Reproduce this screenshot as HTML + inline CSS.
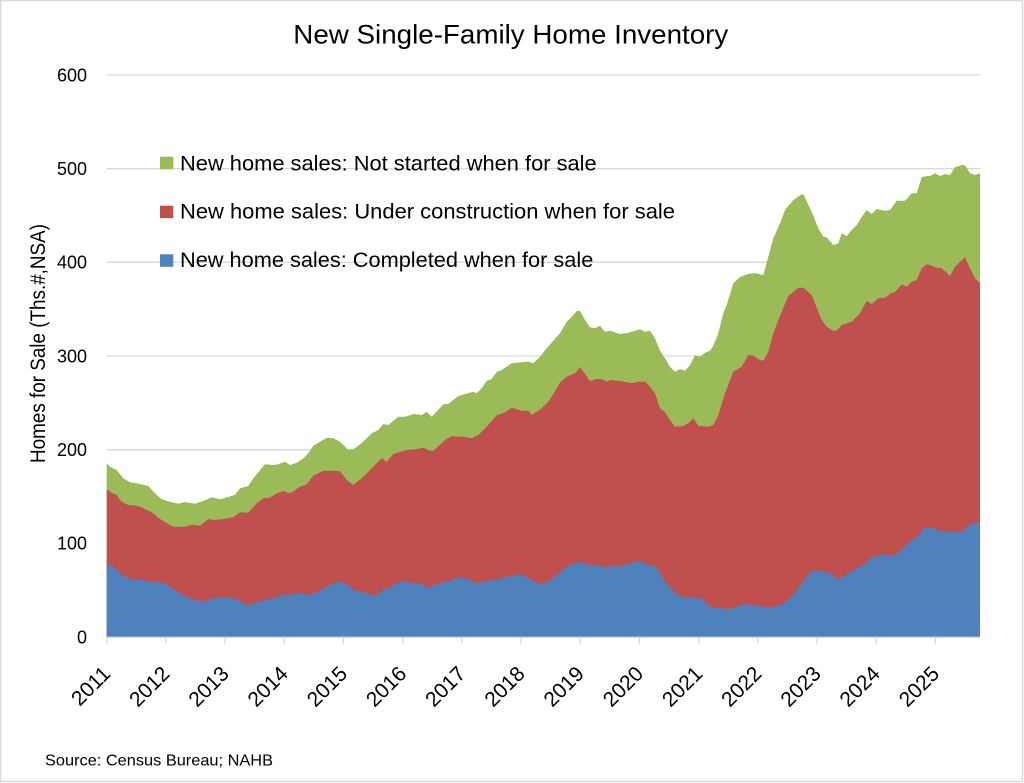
<!DOCTYPE html>
<html>
<head>
<meta charset="utf-8">
<style>
html,body{margin:0;padding:0;background:#fff;}
svg{display:block;}
text{font-family:"Liberation Sans",Arial,sans-serif;fill:#000;}
</style>
</head>
<body>
<svg width="1024" height="783" viewBox="0 0 1024 783" xmlns="http://www.w3.org/2000/svg">
<rect x="0" y="0" width="1024" height="783" fill="#fff"/>
<rect x="0.5" y="0.5" width="1022" height="781" fill="none" stroke="#d9d9d9" stroke-width="1.5"/>

<!-- gridlines -->
<g stroke="#d9d9d9" stroke-width="1.3">
<line x1="106.7" y1="75" x2="980" y2="75"/>
<line x1="106.7" y1="168.7" x2="980" y2="168.7"/>
<line x1="106.7" y1="262.3" x2="980" y2="262.3"/>
<line x1="106.7" y1="356" x2="980" y2="356"/>
<line x1="106.7" y1="449.7" x2="980" y2="449.7"/>
<line x1="106.7" y1="543.3" x2="980" y2="543.3"/>
</g>

<!-- green (not started) -->
<path fill="#9bbb59" d="M106.7,463.3 L110,466.7 116.7,470 123.3,478.3 130,482.3 140,484 148.3,486 155,493.3 161.7,499.3 170,501.7 178.3,503.7 185,502 195,503.7 203.3,501 211.7,497.3 220,499.3 228.3,497 235,494.7 240,488.3 248.3,486 253.3,478.3 265,464.3 273.3,465 278.3,464.3 285,461.7 290,465 296.7,462.7 303.3,458.3 308.3,453.3 313.3,445.7 320,441.7 326.7,437.7 333.3,438.3 340,441.7 348.3,450 353.3,449.3 361.7,443.3 371.7,433.3 378.3,430 383.3,424 388.3,425 398.3,416.7 405,416.7 413.3,414 421.7,415 426.7,411.7 431.7,416.7 443.3,404.3 448.3,404 458.3,396 465,394 470,392.7 473.3,391.7 476.7,393.3 481.7,388.3 486.7,380.7 491.7,379 496.7,371.7 501.7,370 511.7,363.3 525,361.7 528.3,361.7 533.3,363.3 540,356.7 546.7,348.3 556.7,336.7 560,333.3 566.7,321.7 571.7,316.7 576.7,311 580,311 585,320 590,327.3 595,328.3 600,325.7 605,331.7 610,330.7 620,334 628.3,332.7 635,330.7 640,329.3 645,331.7 650,330.7 655,338.3 660,350.7 665,358.3 670,366.7 675,371.7 680,369 685,370.7 690,365 695,355.3 700,356.7 705,352.7 710,350.7 713.3,345.7 718.3,333.3 723.3,313.3 726.7,305 733.3,283.3 740,277 748,274 755,273 760,274.3 763.3,275 768.3,256.7 773.3,238.3 780,223.3 785,210 793.3,200 801.7,194.3 803.3,194.3 811.7,211.7 818.3,228.3 823.3,236.7 826.7,237.3 833.3,245 838.3,243.3 841.7,233.3 846.7,236 851.7,230 856.7,225 861.7,216.7 866.7,210 871.7,214 876.7,209 885,210.7 890,210 896.7,200.7 905,200.7 911.7,193.3 916.7,193.3 921.7,177.3 926.7,176 930,176 935,173.3 940,176 945,174 950,175 955,167.3 961.7,165 965,165.3 970,173.3 975,175 980,173.3 L980,637 L106.7,637 Z"/>

<!-- red (under construction) -->
<path fill="#c0504d" d="M106.7,489.3 L111.7,492.7 116.7,495 121.7,501.7 128.3,505 136.7,505.7 143.3,508.3 151.7,512.3 160,519 173.3,526.7 185,526.7 191.7,524.7 200,525.7 208.3,519 213.3,520 221.7,519.3 233.3,517.3 240,512.3 248.3,512.7 256.7,503.3 263.3,498.3 270,497.7 276.7,493.3 283.3,491 290,493.3 300,486.7 306.7,484.3 313.3,475.7 323.3,470.7 333.3,470.7 340,471.3 346.7,480 353.3,485 363.3,476.7 373.3,466.7 381.7,458 386.7,462 393.3,454 406.7,450 416.7,449 423.3,447.7 428.3,450 433.3,451 445,440 451.7,436.3 463.3,436.7 471.7,438.3 478.3,435 486.7,426.7 496.7,415.3 503.3,413.3 511.7,407.7 521.7,410.7 528.3,410.7 531.7,415 541.7,408.3 548.3,401.7 556.7,388.3 560,382.5 566.7,376.7 575,373.3 580,367.3 585,374 590,381 596.7,379 601.7,379 606.7,381.7 610,380 620,381 626.7,382.3 631.7,383.3 638.3,381.7 645,381.7 650,386.7 655,393.3 660,408.3 665,412.3 670,420 675,426.7 683.3,426 688.3,423.3 693.3,418.3 698.3,425.7 708.3,426.7 713.3,425 718.3,415 725,393.3 733.3,371.7 741.7,366.7 748.3,355 753.3,355.7 760,360 763.3,360.7 768.3,351.7 773.3,333.3 780,315.7 788.3,296 798.3,287.7 803.3,287.7 811.7,295 815,303.3 821.7,320 826.7,326.7 833.3,330.7 836.7,330.7 841.7,325 851.7,321.7 860,313.3 866.7,300.7 871.7,304 878.3,298.3 885,297.7 891.7,292.7 895,292.3 901.7,284.3 906.7,286.7 911.7,281.7 916.7,280 921.7,268.3 926.7,264.3 930,265 936.7,267.7 941.7,268.3 950,275.7 955,266.7 965,257.3 970,268.3 975,278.3 980,283.3 L980,637 L106.7,637 Z"/>

<!-- blue (completed) -->
<path fill="#4f81bd" d="M106.7,563.3 L113.3,566.7 121.7,575 125,576 131.7,580 143.3,580 151.7,582.3 161.7,582.3 170,586.7 176.7,591.7 186.7,596.7 196.7,600.7 206.7,600.7 213.3,598.3 220,597.3 230,597.3 236.7,599.3 246.7,605 253.3,604 260,601 270,599.3 276.7,597.3 285,594 288.3,595.7 293.3,593.3 300,593.3 308.3,595 316.7,592.3 326.7,586.7 333.3,583.3 338.3,581.7 346.7,584 353.3,590 363.3,592.3 375,595.7 383.3,590 391.7,586.7 398.3,582.3 405,581.7 413.3,583.3 421.7,584 428.3,588.3 436.7,583.3 445,582.3 450,581 456.7,577.7 465,578.3 476.7,583.3 486.7,580.7 496.7,580 503.3,577.3 511.7,576 520,574 525,576 531.7,580.7 541.7,584 548.3,581.7 556.7,575 560,573.3 565,567.3 573.3,564.3 580,561 585,564.3 593.3,565.3 600,565.3 605,567.7 610,566 620,566.7 625,564.3 630,564.3 635,561 643.3,562.3 648.3,565.7 653.3,565 658.3,570 665,581.7 675,593.3 683.3,597.3 693.3,597.3 703.3,599.3 708.3,605.7 713.3,607.7 721.7,608.3 728.3,609.3 733.3,606.7 738.3,606.7 743.3,604 750,605 756.7,605 760,606 768.3,607.7 781.7,605 793.3,595 801.7,583.3 811.7,570.7 821.7,570.7 831.7,574.3 836.7,579.3 843.3,576.7 853.3,570 866.7,563.3 871.7,556 876.7,557.3 881.7,553.3 886.7,555.7 896.7,554.3 903.3,547.7 911.7,540 916.7,538 925,526.7 933.3,528.3 941.7,531 950,532.7 955,530.7 960,532.7 965,529.3 970,524 975,524 980,522.3 L980,637 L106.7,637 Z"/>

<!-- axis line and ticks -->
<g stroke="#d9d9d9" stroke-width="1.3">
<line x1="106.7" y1="637.3" x2="980" y2="637.3"/>
<line x1="106.7" y1="637" x2="106.7" y2="644"/>
<line x1="165.9" y1="637" x2="165.9" y2="644"/>
<line x1="225.1" y1="637" x2="225.1" y2="644"/>
<line x1="284.3" y1="637" x2="284.3" y2="644"/>
<line x1="343.5" y1="637" x2="343.5" y2="644"/>
<line x1="402.7" y1="637" x2="402.7" y2="644"/>
<line x1="461.9" y1="637" x2="461.9" y2="644"/>
<line x1="521.1" y1="637" x2="521.1" y2="644"/>
<line x1="580.3" y1="637" x2="580.3" y2="644"/>
<line x1="639.5" y1="637" x2="639.5" y2="644"/>
<line x1="698.7" y1="637" x2="698.7" y2="644"/>
<line x1="757.9" y1="637" x2="757.9" y2="644"/>
<line x1="817.1" y1="637" x2="817.1" y2="644"/>
<line x1="876.3" y1="637" x2="876.3" y2="644"/>
<line x1="935.5" y1="637" x2="935.5" y2="644"/>
</g>

<!-- title -->
<text x="293.3" y="43.3" font-size="27" textLength="435" lengthAdjust="spacingAndGlyphs">New Single-Family Home Inventory</text>

<!-- y tick labels -->
<g font-size="18" text-anchor="end">
<text x="87" y="81.3">600</text>
<text x="87" y="175">500</text>
<text x="87" y="268.6">400</text>
<text x="87" y="362.3">300</text>
<text x="87" y="456">200</text>
<text x="87" y="549.6">100</text>
<text x="87" y="643.3">0</text>
</g>

<!-- y axis title -->
<text transform="translate(45,343.5) rotate(-90)" font-size="21" text-anchor="middle" textLength="239" lengthAdjust="spacingAndGlyphs">Homes for Sale (Ths.#,NSA)</text>

<!-- x labels -->
<g font-size="21" text-anchor="end">
<text transform="translate(111.7,675) rotate(-45)">2011</text>
<text transform="translate(170.9,675) rotate(-45)">2012</text>
<text transform="translate(230.1,675) rotate(-45)">2013</text>
<text transform="translate(289.3,675) rotate(-45)">2014</text>
<text transform="translate(348.5,675) rotate(-45)">2015</text>
<text transform="translate(407.7,675) rotate(-45)">2016</text>
<text transform="translate(466.9,675) rotate(-45)">2017</text>
<text transform="translate(526.1,675) rotate(-45)">2018</text>
<text transform="translate(585.3,675) rotate(-45)">2019</text>
<text transform="translate(644.5,675) rotate(-45)">2020</text>
<text transform="translate(703.7,675) rotate(-45)">2021</text>
<text transform="translate(762.9,675) rotate(-45)">2022</text>
<text transform="translate(822.1,675) rotate(-45)">2023</text>
<text transform="translate(881.3,675) rotate(-45)">2024</text>
<text transform="translate(940.5,675) rotate(-45)">2025</text>
</g>

<!-- legend -->
<rect x="160" y="156.7" width="13.3" height="12.5" fill="#9bbb59"/>
<rect x="160" y="205.7" width="13.3" height="12.5" fill="#c0504d"/>
<rect x="160" y="254.3" width="13.3" height="12.5" fill="#4f81bd"/>
<g font-size="21">
<text x="180" y="170.7" textLength="416.7" lengthAdjust="spacingAndGlyphs">New home sales: Not started when for sale</text>
<text x="180" y="218.5" textLength="495" lengthAdjust="spacingAndGlyphs">New home sales: Under construction when for sale</text>
<text x="180" y="266.9" textLength="413.3" lengthAdjust="spacingAndGlyphs">New home sales: Completed when for sale</text>
</g>

<!-- source -->
<text x="45" y="765.7" font-size="16" textLength="228" lengthAdjust="spacingAndGlyphs">Source: Census Bureau; NAHB</text>
</svg>
</body>
</html>
